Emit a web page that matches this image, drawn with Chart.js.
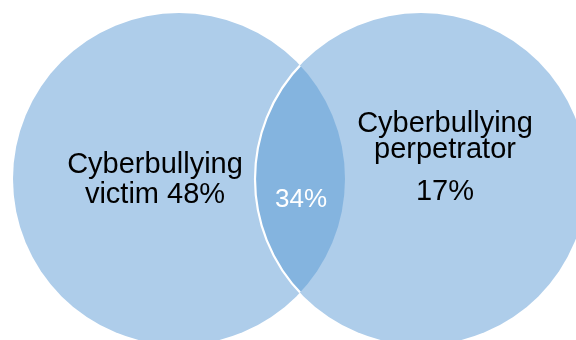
<!DOCTYPE html>
<html>
<head>
<meta charset="utf-8">
<title>Cyberbullying overlap</title>
<script src="https://cdn.jsdelivr.net/npm/chart.js@4/dist/chart.umd.min.js"></script>
<style>
  html, body { margin: 0; padding: 0; background: #ffffff; }
  #wrap { width: 576px; height: 340px; }
</style>
</head>
<body>
<div id="wrap"><canvas id="venn" width="576" height="340"></canvas></div>
<script>
// Groups and their shares (percent of respondents)
const categories = ['Cyberbullying victim', 'Cyberbullying perpetrator'];
const shares = [48, 17];
const overlapShare = 34;

// Label lines for each group
const labelLines = [
  ['Cyberbullying', 'victim ' + shares[0] + '%'],
  ['Cyberbullying', 'perpetrator', shares[1] + '%']
];

// Layout: circle centres in scale units, circle radius in pixels
const centersX = [179, 421];
const centersY = [179, 179];
const circleRadius = 166;

// Label anchor points (scale units): x centre and baseline of each line
const labelX = [155, 445];
const labelBaselines = [[173, 203], [132, 158, 200]];
const overlapLabelPos = { x: 301, y: 207 };

const lightBlue = '#AECDEA';
const darkBlue = '#84B4DF';
const fontFamily = '"Liberation Sans", Arial, sans-serif';

const vennPlugin = {
  id: 'vennOverlay',
  afterDatasetsDraw(chart) {
    const ctx = chart.ctx;
    const a = chart.getDatasetMeta(0).data[0];
    const b = chart.getDatasetMeta(1).data[0];
    const ra = a.options.radius, rb = b.options.radius;

    // Intersection of the two circles
    ctx.save();
    ctx.beginPath();
    ctx.arc(a.x, a.y, ra, 0, Math.PI * 2);
    ctx.clip();
    ctx.beginPath();
    ctx.arc(b.x, b.y, rb, 0, Math.PI * 2);
    ctx.fillStyle = darkBlue;
    ctx.fill();
    // White outline of the second circle inside the first
    ctx.lineWidth = 2.2;
    ctx.strokeStyle = '#ffffff';
    ctx.stroke();
    ctx.restore();

    const xs = chart.scales.x, ys = chart.scales.y;
    ctx.save();
    ctx.textAlign = 'center';
    ctx.textBaseline = 'alphabetic';
    ctx.fillStyle = '#000000';
    ctx.font = '29px ' + fontFamily;
    labelLines.forEach((lines, i) => {
      lines.forEach((t, j) => {
        ctx.fillText(t, xs.getPixelForValue(labelX[i]), ys.getPixelForValue(labelBaselines[i][j]));
      });
    });
    ctx.fillStyle = '#ffffff';
    ctx.font = '26px ' + fontFamily;
    ctx.fillText(overlapShare + '%', xs.getPixelForValue(overlapLabelPos.x), ys.getPixelForValue(overlapLabelPos.y));
    ctx.restore();
  }
};

new Chart(document.getElementById('venn'), {
  type: 'bubble',
  data: {
    datasets: categories.map((name, i) => ({
      label: name,
      data: [{ x: centersX[i], y: centersY[i], r: circleRadius }],
      backgroundColor: lightBlue,
      borderWidth: 0,
      hoverBorderWidth: 0,
      clip: false
    }))
  },
  options: {
    responsive: false,
    animation: false,
    events: [],
    layout: { padding: 0, autoPadding: false },
    scales: {
      x: { type: 'linear', min: 0, max: 576, display: false },
      y: { type: 'linear', min: 0, max: 340, reverse: true, display: false }
    },
    plugins: {
      legend: { display: false },
      tooltip: { enabled: false }
    }
  },
  plugins: [vennPlugin]
});
</script>
</body>
</html>
